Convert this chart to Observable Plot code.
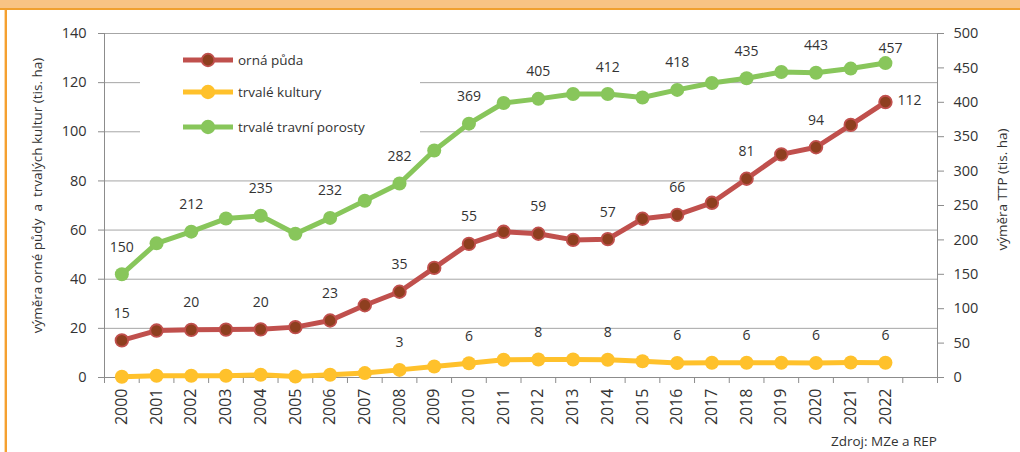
<!DOCTYPE html>
<html>
<head>
<meta charset="utf-8">
<script src="https://cdn.jsdelivr.net/npm/d3@7"></script>
<script src="https://cdn.jsdelivr.net/npm/@observablehq/plot@0.6"></script>
<style>
  html, body { margin: 0; padding: 0; background: #fff; }
  #wrap { position: relative; width: 1020px; height: 452px; overflow: hidden;
          font-family: "Open Sans", sans-serif; color: #333; }
  #topband { position: absolute; left: 0; top: 0; width: 1020px; height: 8px; background: #F8C384;
             border-bottom: 2px solid #F0A030; }
  #leftline { position: absolute; left: 5px; top: 10px; width: 2px; height: 442px; background: #F5A030;
              box-shadow: -1px 0 0 #FBD9A8; }
  #chart { position: absolute; left: 0; top: 0; }
  #legend { position: absolute; left: 140px; top: 44px; width: 280px; height: 102px; background: #fff; }
  #legend .item { position: absolute; left: 42px; height: 20px; display: flex; align-items: center; }
  #legend .item span { font-size: 13.5px; margin-left: 4px; color: #333; }
  #caption { position: absolute; right: 83px; top: 432px; font-size: 13.5px; color: #333; }
</style>
</head>
<body>
<div id="wrap">
  <div id="topband"></div>
  <div id="leftline"></div>
  <div id="chart"></div>
  <div id="legend"></div>
  <div id="caption">Zdroj: MZe a REP</div>
</div>
<script>
// ---- data ----
const years = [2000, 2001, 2002, 2003, 2004, 2005, 2006, 2007, 2008, 2009, 2010, 2011,
               2012, 2013, 2014, 2015, 2016, 2017, 2018, 2019, 2020, 2021, 2022];
const seriesNames = ["orná půda", "trvalé kultury", "trvalé travní porosty"];
const ornaPuda = [15.1, 19.1, 19.4, 19.5, 19.6, 20.5, 23.2, 29.4, 34.9, 44.6, 54.4, 59.3,
                  58.5, 56.0, 56.3, 64.6, 66.2, 71.1, 80.9, 90.8, 93.7, 102.8, 112.1];
const trvaleKultury = [0.3, 0.7, 0.7, 0.7, 1.1, 0.4, 1.1, 1.8, 3.1, 4.5, 5.8, 7.2,
                       7.3, 7.3, 7.2, 6.6, 5.9, 6.0, 6.0, 6.0, 5.9, 6.1, 6.0];
const ttp = [150, 195, 212, 231, 235, 209, 232, 257, 282, 330, 369, 399,
             405, 412, 412, 407, 418, 428, 435, 444, 443, 449, 457];
const labelYears = [2000, 2002, 2004, 2006, 2008, 2010, 2012, 2014, 2016, 2018, 2020, 2022];
const ornaLabels = [15, 20, 20, 23, 35, 55, 59, 57, 66, 81, 94, 112];
const kulturyLabels = [null, null, null, null, 3, 6, 8, 8, 6, 6, 6, 6];
const ttpLabels = [150, 212, 235, 232, 282, 369, 405, 412, 418, 435, 443, 457];
const leftTicks = [0, 20, 40, 60, 80, 100, 120, 140];
const rightTicks = [0, 50, 100, 150, 200, 250, 300, 350, 400, 450, 500];
const leftTitle = "výměra orné půdy  a  trvalých kultur (tis. ha)";
const rightTitle = "výměra TTP (tis. ha)";

// ---- style ----
const colors = {
  red: "#C0504D", redFill: "#8E3F1F",
  yellow: "#FFC12B",
  green: "#88C65B"
};
const k = 140 / 500; // right axis -> left axis units
const textColor = "#333";

const rows = (vals, scale = 1) => years.map((y, i) => ({year: y, v: vals[i] * scale}));
const redRows = rows(ornaPuda);
const yelRows = rows(trvaleKultury);
const grnRows = rows(ttp, k);

function labelRows(labels, vals, scale = 1) {
  return labelYears.map((y, i) => ({year: y, label: labels[i], v: vals[years.indexOf(y)] * scale}))
    .filter(d => d.label != null);
}
const redLab = labelRows(ornaLabels, ornaPuda);
const yelLab = labelRows(kulturyLabels, trvaleKultury);
const grnLab = labelRows(ttpLabels, ttp, k);
const lastYear = years[years.length - 1];

const halfTicks = d3.range(years[0] - 0.5, lastYear + 2, 1);

const plot = Plot.plot({
  width: 1020,
  height: 452,
  marginLeft: 104,
  marginRight: 83,
  marginTop: 33,
  marginBottom: 75,
  style: {fontFamily: '"Open Sans", sans-serif', color: textColor, background: "transparent"},
  x: {domain: [years[0] - 0.5, lastYear + 1.5]},
  y: {domain: [0, 140]},
  marks: [
    Plot.gridY(leftTicks.slice(1), {stroke: "#a6a6a6", strokeOpacity: 1}),
    Plot.ruleY([0], {stroke: "#8c8c8c"}),
    Plot.ruleX([years[0] - 0.5, lastYear + 1.5], {stroke: "#8c8c8c", y1: 0, y2: 140}),
    Plot.axisY(leftTicks, {anchor: "left", tickSize: 6, tickPadding: 12, fontSize: 14.5, stroke: "#8c8c8c", color: textColor, label: null}),
    Plot.axisY(rightTicks.map(v => v * k), {anchor: "right", tickSize: 6, tickPadding: 10, fontSize: 14.5,
      tickFormat: d => String(Math.round(d / k)), stroke: "#8c8c8c", color: textColor, label: null}),
    Plot.axisX(halfTicks, {tickSize: 6, tickFormat: () => "", stroke: "#8c8c8c", label: null}),
    Plot.axisX(years, {tickSize: 0, tickPadding: 11, tickRotate: -90, fontSize: 16,
      tickFormat: d => String(d), color: textColor, label: null}),
    // lines
    Plot.line(grnRows, {x: "year", y: "v", stroke: colors.green, strokeWidth: 5}),
    Plot.line(redRows, {x: "year", y: "v", stroke: colors.red, strokeWidth: 5}),
    Plot.line(yelRows, {x: "year", y: "v", stroke: colors.yellow, strokeWidth: 5}),
    Plot.dot(grnRows, {x: "year", y: "v", r: 7, fill: colors.green}),
    Plot.dot(redRows, {x: "year", y: "v", r: 6.3, fill: colors.redFill, stroke: colors.red, strokeWidth: 1.8}),
    Plot.dot(yelRows, {x: "year", y: "v", r: 7, fill: colors.yellow}),
    // labels
    Plot.text(grnLab.filter(d => d.year !== lastYear), {x: "year", y: "v", text: "label", dy: -27, fontSize: 14, fill: textColor}),
    Plot.text(grnLab.filter(d => d.year === lastYear), {x: "year", y: "v", text: "label", dy: -15, dx: 5, fontSize: 14, fill: textColor}),
    Plot.text(redLab.filter(d => d.year !== lastYear), {x: "year", y: "v", text: "label", dy: -27, fontSize: 14, fill: textColor}),
    Plot.text(redLab.filter(d => d.year === lastYear), {x: "year", y: "v", text: "label", dx: 24, dy: -2, fontSize: 14, fill: textColor}),
    Plot.text(yelLab, {x: "year", y: "v", text: "label", dy: -27, fontSize: 14, fill: textColor}),
    // axis titles
    Plot.text([leftTitle], {frameAnchor: "left", textAnchor: "middle", dx: -67, dy: -10, rotate: -90, fontSize: 13.5, fill: textColor}),
    Plot.text([rightTitle], {frameAnchor: "right", textAnchor: "middle", dx: 65, dy: -16, rotate: -90, fontSize: 13.5, fill: textColor})
  ]
});
document.getElementById("chart").appendChild(plot);

// ---- legend ----
const legend = document.getElementById("legend");
const legendStyles = [
  {stroke: colors.red, fill: colors.redFill, ring: colors.red},
  {stroke: colors.yellow, fill: colors.yellow, ring: colors.yellow},
  {stroke: colors.green, fill: colors.green, ring: colors.green}
];
const legendTops = [6, 38, 73];
seriesNames.forEach((name, i) => {
  const s = legendStyles[i];
  const item = document.createElement("div");
  item.className = "item";
  item.style.top = legendTops[i] + "px";
  item.innerHTML = `<svg width="52" height="20"><line x1="1" x2="51" y1="10" y2="10" stroke="${s.stroke}" stroke-width="5"/>` +
    `<circle cx="26" cy="10" r="6.3" fill="${s.fill}" stroke="${s.ring}" stroke-width="1.8"/></svg><span>${name}</span>`;
  legend.appendChild(item);
});
</script>
</body>
</html>
